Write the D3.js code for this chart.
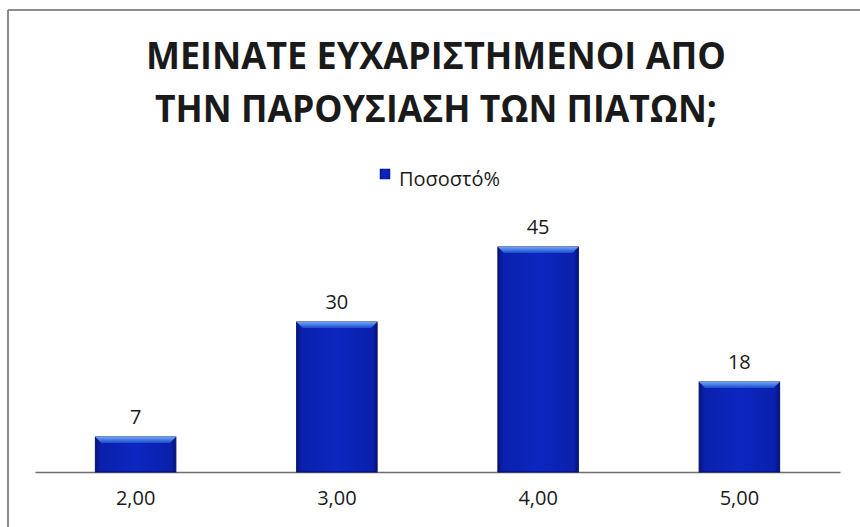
<!DOCTYPE html>
<html>
<head>
  <meta charset="utf-8">
  <script src="https://d3js.org/d3.v7.min.js"></script>
  <style>
  body { margin: 0; background: #fff; }
  text { font-family: "Open Sans", "DejaVu Sans", sans-serif; fill: #1a1a1a; }
  </style>
</head>
<body>
<div id="chart"></div>
<script>
// chart data
var categories = ["2,00", "3,00", "4,00", "5,00"];
var values = [7, 30, 45, 18];
var titleLines = ["ΜΕΙΝΑΤΕ ΕΥΧΑΡΙΣΤΗΜΕΝΟΙ ΑΠΟ", "ΤΗΝ ΠΑΡΟΥΣΙΑΣΗ ΤΩΝ ΠΙΑΤΩΝ;"];
var seriesName = "Ποσοστό%";

var WIDTH = 860, HEIGHT = 527;
var BASE = 472;

var svg = d3.select("#chart").append("svg")
  .attr("width", WIDTH)
  .attr("height", HEIGHT);

var defs = svg.append("defs");

// horizontal shading of the bar body
var body = defs.append("linearGradient").attr("id", "barBody")
  .attr("x1", "0").attr("x2", "1").attr("y1", "0").attr("y2", "0");
body.append("stop").attr("offset", "0").attr("stop-color", "#06137a");
body.append("stop").attr("offset", "0.06").attr("stop-color", "#0a20ac");
body.append("stop").attr("offset", "0.5").attr("stop-color", "#0c27c0");
body.append("stop").attr("offset", "0.94").attr("stop-color", "#0a20ac");
body.append("stop").attr("offset", "1").attr("stop-color", "#06137a");

// top bevel highlight
var bevel = defs.append("linearGradient").attr("id", "barTop")
  .attr("x1", "0").attr("x2", "0").attr("y1", "0").attr("y2", "1");
bevel.append("stop").attr("offset", "0").attr("stop-color", "#6aa4f4");
bevel.append("stop").attr("offset", "1").attr("stop-color", "#1c4ad0");

// frame of the chart area
svg.append("line")
  .attr("x1", 8).attr("x2", WIDTH).attr("y1", 10).attr("y2", 10)
  .attr("stroke", "#8c8c8c").attr("stroke-width", 2);
svg.append("line")
  .attr("x1", 8).attr("x2", 8).attr("y1", 10).attr("y2", HEIGHT)
  .attr("stroke", "#8c8c8c").attr("stroke-width", 2);

// title
svg.selectAll(".title")
  .data(titleLines)
  .enter().append("text")
  .attr("class", "title")
  .attr("x", 436)
  .attr("y", function(d, i) { return 69 + i * 53; })
  .attr("text-anchor", "middle")
  .attr("textLength", function(d, i) { return i == 0 ? 580 : 562; })
  .attr("lengthAdjust", "spacingAndGlyphs")
  .style("font-size", "37px")
  .style("font-weight", "bold")
  .text(function(d) { return d; });

// legend
svg.append("rect")
  .attr("x", 380).attr("y", 169).attr("width", 10).attr("height", 10)
  .attr("fill", "url(#barBody)").attr("stroke", "#06137a").attr("stroke-width", 0.5);
svg.append("text")
  .attr("x", 399).attr("y", 186)
  .style("font-size", "20px")
  .text(seriesName);

var x = d3.scaleBand()
  .domain(categories)
  .range([35, 840])
  .paddingInner(0.6)
  .paddingOuter(0.3);

var y = d3.scaleLinear()
  .domain([0, 50])
  .range([BASE, BASE - 250]);

// axis baseline + category labels
var xAxis = svg.append("g")
  .attr("transform", "translate(0," + BASE + ")")
  .call(d3.axisBottom(x).tickSize(0).tickPadding(19));
xAxis.select(".domain").attr("stroke", "#6e6e6e").attr("stroke-width", 1.5);
xAxis.selectAll("text")
  .style("font-size", "20px")
  .style("font-family", "\"Open Sans\", sans-serif")
  .attr("fill", "#1a1a1a");

var rows = categories.map(function(c, i) { return {cat: c, val: values[i]}; });

var bars = svg.selectAll(".bar")
  .data(rows)
  .enter().append("g")
  .attr("class", "bar");

bars.append("rect")
  .attr("x", function(d) { return x(d.cat); })
  .attr("y", function(d) { return y(d.val); })
  .attr("width", x.bandwidth())
  .attr("height", function(d) { return BASE - y(d.val); })
  .attr("fill", "url(#barBody)")
  .attr("stroke", "#05106a")
  .attr("stroke-width", 1);

bars.append("path")
  .attr("d", function(d) {
    var x0 = x(d.cat), x1 = x0 + x.bandwidth(), t = y(d.val), b = 6;
    return "M" + x0 + "," + t + "L" + x1 + "," + t +
      "L" + (x1 - b) + "," + (t + b) + "L" + (x0 + b) + "," + (t + b) + "Z";
  })
  .attr("fill", "url(#barTop)");

bars.append("text")
  .attr("x", function(d) { return x(d.cat) + x.bandwidth() / 2; })
  .attr("y", function(d) { return y(d.val) - 13; })
  .attr("text-anchor", "middle")
  .style("font-size", "20px")
  .text(function(d) { return d.val; });
</script>
</body>
</html>
